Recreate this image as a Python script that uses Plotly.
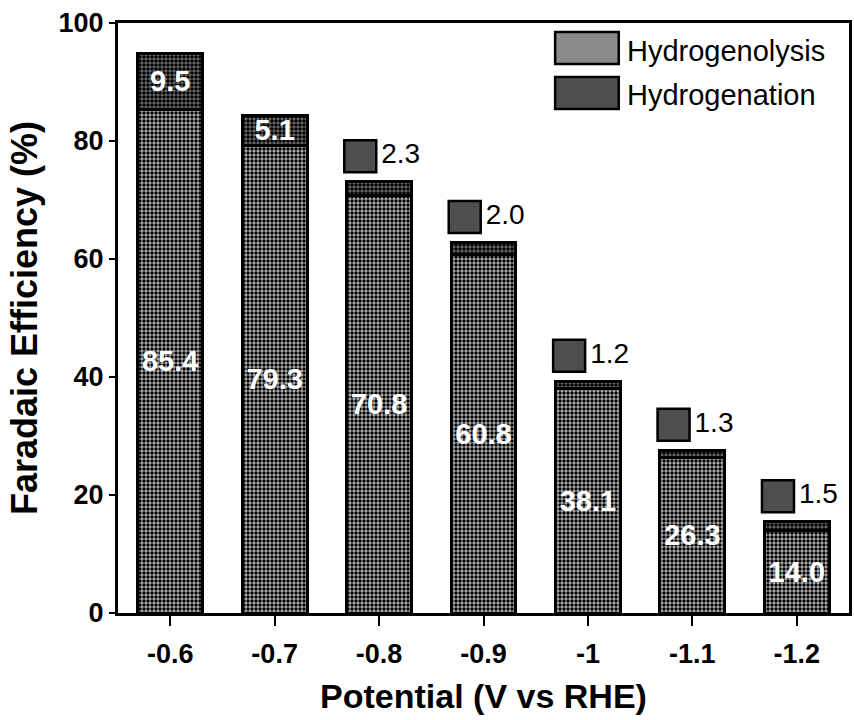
import plotly.graph_objects as go

# Faradaic efficiency at each applied potential
potentials = ["-0.6", "-0.7", "-0.8", "-0.9", "-1", "-1.1", "-1.2"]
hydrogenolysis = [85.4, 79.3, 70.8, 60.8, 38.1, 26.3, 14.0]
hydrogenation = [9.5, 5.1, 2.3, 2.0, 1.2, 1.3, 1.5]

FONT = "Liberation Sans, Arial, sans-serif"
LIGHT_BG, DARK_BG = "#b4b4b4", "#6e6e6e"
LIGHT_AVG, DARK_AVG = "#8a8a8a", "#4e4e4e"

x = list(range(len(potentials)))
totals = [a + b for a, b in zip(hydrogenolysis, hydrogenation)]

# small hydrogenation shares get a flag above the bar instead of an inside label
inside_text = [f"{v:.1f}" if v >= 5 else "" for v in hydrogenation]
flag_idx = [i for i, v in enumerate(hydrogenation) if v < 5]

fig = go.Figure()

fig.add_trace(go.Bar(
    x=x, y=hydrogenolysis, width=0.62, name="Hydrogenolysis",
    marker=dict(
        color=LIGHT_BG,
        line=dict(color="black", width=3),
        pattern=dict(shape=".", fgcolor="#000000", bgcolor=LIGHT_BG,
                     size=4, solidity=0.55, fillmode="replace"),
    ),
    text=[f"{v:.1f}" for v in hydrogenolysis],
    textposition="inside", insidetextanchor="middle", textangle=0,
    constraintext="none",
    insidetextfont=dict(family=FONT, size=29, color="white", weight="bold"),
    showlegend=False,
))

fig.add_trace(go.Bar(
    x=x, y=hydrogenation, width=0.62, name="Hydrogenation",
    marker=dict(
        color=DARK_BG,
        line=dict(color="black", width=3),
        pattern=dict(shape=".", fgcolor="#000000", bgcolor=DARK_BG,
                     size=4, solidity=0.6, fillmode="replace"),
    ),
    text=inside_text,
    textposition="inside", insidetextanchor="middle", textangle=0,
    constraintext="none",
    insidetextfont=dict(family=FONT, size=29, color="white", weight="bold"),
    showlegend=False,
))

# flag markers for the thin hydrogenation segments
fig.add_trace(go.Scatter(
    x=[x[i] - 0.18 for i in flag_idx],
    y=[totals[i] + 4.3 for i in flag_idx],
    mode="markers+text",
    marker=dict(symbol="square", size=32, color=DARK_AVG,
                line=dict(color="black", width=2.5)),
    text=[f"{hydrogenation[i]:.1f}" for i in flag_idx],
    textposition="middle right",
    textfont=dict(family=FONT, size=28, color="black"),
    showlegend=False, cliponaxis=False,
))

# legend swatches and labels
legend_rows = [("Hydrogenolysis", LIGHT_AVG, 0.9847, 0.9305, 0.952),
               ("Hydrogenation", DARK_AVG, 0.9085, 0.8542, 0.878)]
shapes = []
annotations = []
for label, col, y1, y0, yt in legend_rows:
    shapes.append(dict(type="rect", xref="paper", yref="paper",
                       x0=0.598, x1=0.685, y0=y0, y1=y1,
                       fillcolor=col, line=dict(color="black", width=2.5)))
    annotations.append(dict(xref="paper", yref="paper", x=0.693, y=yt,
                            xanchor="left", yanchor="middle", text=label,
                            showarrow=False,
                            font=dict(family=FONT, size=29, color="black")))

fig.update_layout(
    barmode="stack",
    width=854, height=720,
    margin=dict(l=118, r=2, t=23, b=107),
    paper_bgcolor="white", plot_bgcolor="white",
    font=dict(family=FONT, color="black"),
    shapes=shapes, annotations=annotations,
    uniformtext=dict(mode=False),
)

fig.update_xaxes(
    range=[-0.5, 6.5], tickvals=x, ticktext=potentials,
    showgrid=False, zeroline=False,
    showline=True, linecolor="black", linewidth=3, mirror=True,
    ticks="outside", ticklen=10, tickwidth=2, tickcolor="black",
    ticklabelstandoff=5,
    tickfont=dict(family=FONT, size=27, weight="bold"),
    title=dict(text="Potential (V vs RHE)", standoff=16,
               font=dict(family=FONT, size=34, weight="bold")),
)
fig.update_yaxes(
    range=[0, 100], tickvals=[0, 20, 40, 60, 80, 100],
    showgrid=False, zeroline=False,
    showline=True, linecolor="black", linewidth=3, mirror=True,
    ticks="outside", ticklen=6, tickwidth=2, tickcolor="black",
    tickfont=dict(family=FONT, size=27, weight="bold"),
    title=dict(text="Faradaic Efficiency (%)", standoff=10,
               font=dict(family=FONT, size=36, weight="bold")),
)

fig.write_html("out.html")
